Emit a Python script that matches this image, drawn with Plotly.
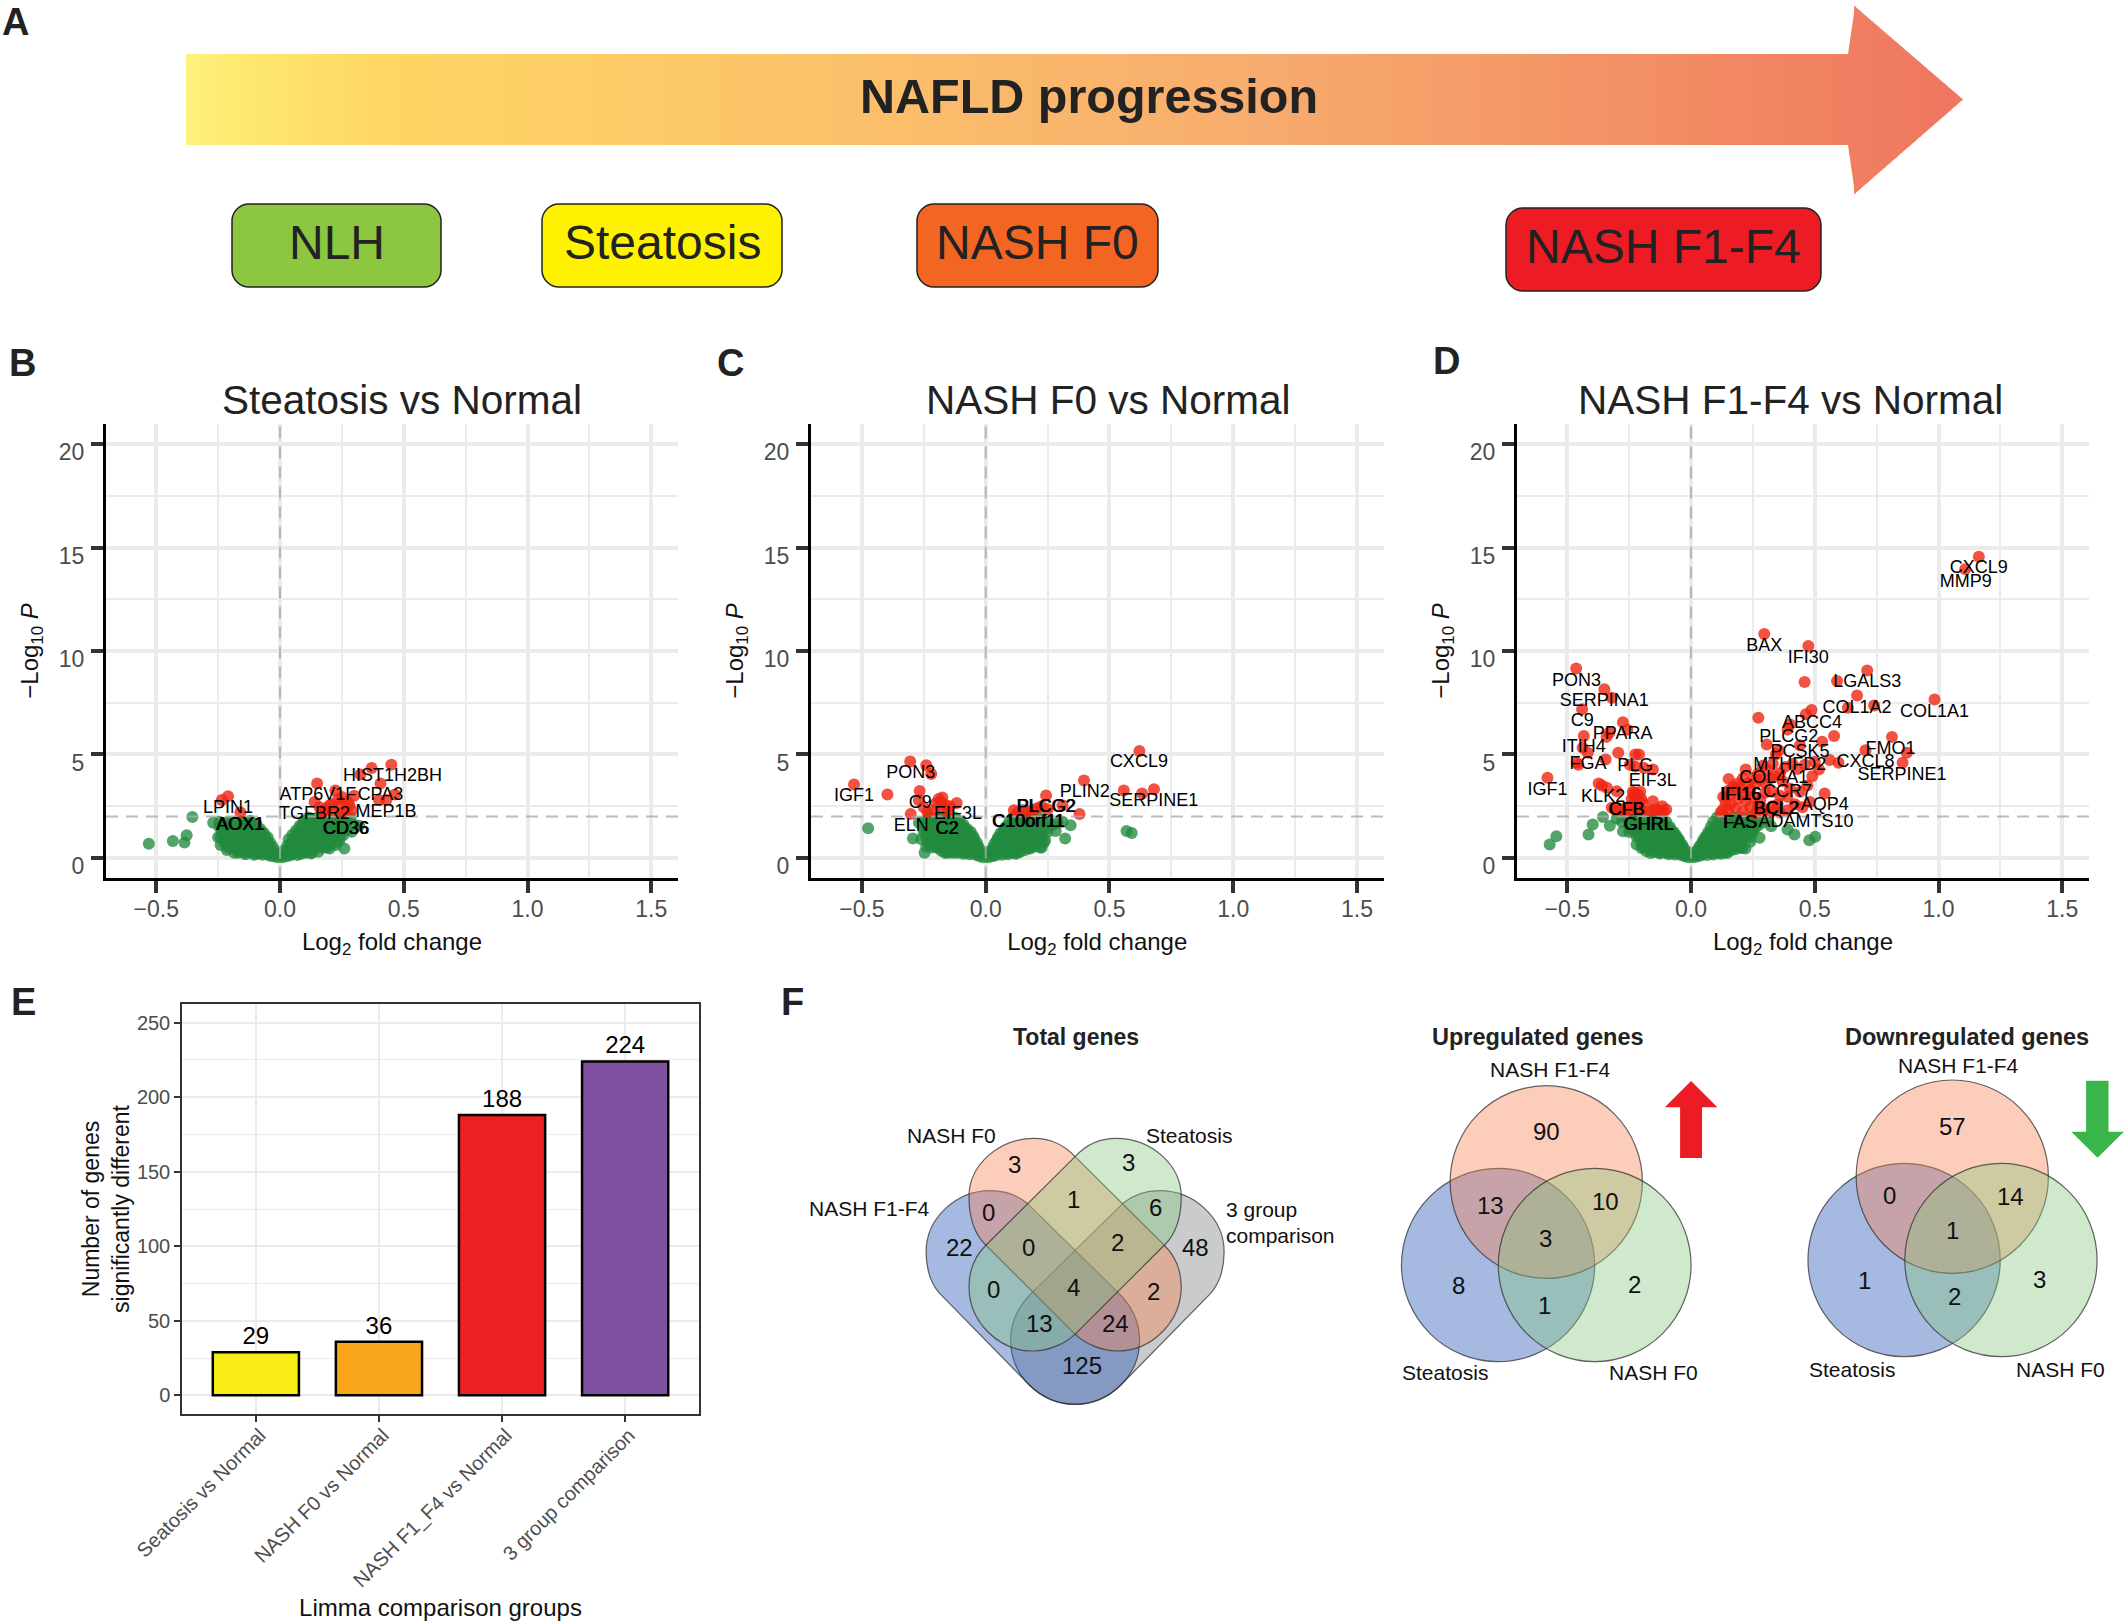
import plotly.graph_objects as go

W, H = 2128, 1621
FONT = "Liberation Sans"

# ---------- volcano data (log2FC, -log10 P) ----------
b_green_x = [-0.53,-0.433,-0.386,-0.377,-0.354,-0.27,0.26,0.29,0.32,
 -0.01,-0.015,-0.02,-0.025,-0.03,-0.03,-0.04,-0.04,-0.05,-0.05,-0.06,-0.06,-0.065,-0.07,-0.07,-0.08,-0.08,-0.085,-0.09,-0.09,-0.095,-0.1,-0.1,-0.105,-0.11,-0.115,-0.12,-0.12,-0.125,-0.13,-0.135,-0.14,-0.14,-0.15,-0.15,-0.155,-0.16,-0.165,-0.17,-0.175,-0.18,-0.185,-0.19,-0.195,-0.2,-0.205,-0.21,-0.215,-0.22,-0.225,-0.235,-0.24,-0.245,-0.25,
 0.01,0.015,0.02,0.025,0.03,0.03,0.035,0.04,0.04,0.045,0.05,0.05,0.055,0.06,0.06,0.065,0.07,0.07,0.075,0.08,0.08,0.085,0.09,0.09,0.095,0.1,0.1,0.105,0.11,0.115,0.12,0.12,0.125,0.13,0.135,0.14,0.14,0.15,0.15,0.155,0.16,0.165,0.17,0.175,0.18,0.185,0.19,0.195,0.2,0.205,0.21,0.215,0.22,0.225,0.235,0.24,0.245,0.255,0.26,0.27,0.285,0.3,
 0.03,0.055,0.08,0.105,0.13, 0.04,0.07,0.1,0.13,0.16,0.19, 0.05,0.08,0.11,0.14,0.17,0.2,0.23, 0.06,0.09,0.12,0.15,0.18,0.21,0.24, 0.07,0.1,0.13,0.16,0.19,0.22,0.25, 0.085,0.115,0.145,0.175,0.205,0.235, 0.1,0.13,0.16,0.19,0.22,0.25, 0.115,0.15,0.185,0.22,0.27,
 -0.03,-0.055,-0.08,-0.11,-0.14,-0.17, -0.04,-0.07,-0.1,-0.13,-0.16,-0.19,-0.21, -0.05,-0.08,-0.11,-0.14,-0.17,-0.2,-0.225, -0.06,-0.09,-0.12,-0.15,-0.18,-0.21,-0.24, -0.075,-0.105,-0.135,-0.165,-0.195,-0.225, -0.095,-0.125,-0.155,-0.185,-0.215,-0.245, -0.12,-0.15,-0.18,-0.21]
b_green_y = [0.69,0.82,0.74,1.1,1.98,1.7,0.46,1.26,1.55,
 0.03,0.2,0.35,0.08,0.55,0.25,0.1,0.75,0.18,1.0,0.4,0.85,1.2,0.15,0.6,0.3,1.4,0.9,0.2,1.1,1.65,0.5,1.3,0.15,0.78,1.55,1.05,1.8,0.28,0.62,1.25,0.18,1.6,0.48,0.95,1.4,1.75,0.3,1.15,0.7,1.55,0.25,0.95,1.3,0.5,1.65,1.1,0.38,1.45,0.8,1.2,0.62,1.75,1.0,
 0.03,0.18,0.38,0.08,0.6,0.28,0.9,0.12,0.48,0.75,1.12,0.2,0.55,0.92,0.34,1.32,0.14,0.7,1.1,1.55,0.42,0.2,0.85,1.28,1.8,0.55,1.05,0.3,1.5,0.75,1.9,1.2,0.22,0.45,0.95,1.65,1.4,0.65,1.1,0.3,1.85,0.85,1.35,0.5,1.6,1.05,0.72,1.95,0.45,1.3,0.9,1.7,1.15,0.62,1.45,0.85,1.9,1.1,1.65,1.35,1.95,1.6,
 0.25,0.25,0.25,0.25,0.25, 0.5,0.5,0.5,0.5,0.5,0.5, 0.75,0.75,0.75,0.75,0.75,0.75,0.75, 1.0,1.0,1.0,1.0,1.0,1.0,1.0, 1.25,1.25,1.25,1.25,1.25,1.25,1.25, 1.5,1.5,1.5,1.5,1.5,1.5, 1.75,1.75,1.75,1.75,1.75,1.75, 1.95,1.95,1.95,1.95,1.95,
 0.25,0.25,0.25,0.25,0.25,0.25, 0.5,0.5,0.5,0.5,0.5,0.5,0.5, 0.75,0.75,0.75,0.75,0.75,0.75,0.75, 1.0,1.0,1.0,1.0,1.0,1.0,1.0, 1.25,1.25,1.25,1.25,1.25,1.25, 1.5,1.5,1.5,1.5,1.5,1.5, 1.75,1.75,1.75,1.75]
b_red_x = [0.45,0.37,0.325,0.406,0.15,0.224,0.464,0.30,0.43,0.40,0.14,0.275,0.21,0.24,0.19,0.29,0.22,0.256,0.175,0.2,0.235,0.265,0.16,0.18,0.25,0.28,-0.21,-0.235,-0.16]
b_red_y = [4.5,4.35,4.03,3.6,3.6,3.26,3.07,3.0,2.8,2.8,2.7,2.7,2.6,2.5,2.4,2.3,2.2,2.2,2.3,2.55,2.85,2.35,2.45,2.2,2.95,2.55,2.98,2.8,2.2]

c_green_x = [-0.475,-0.294,-0.247,-0.235,-0.157,0.569,0.59,0.343,0.283,0.321,0.235,0.226,
 -0.01,-0.015,-0.02,-0.025,-0.03,-0.035,-0.04,-0.045,-0.05,-0.05,-0.06,-0.06,-0.065,-0.07,-0.075,-0.08,-0.08,-0.09,-0.09,-0.095,-0.1,-0.1,-0.11,-0.11,-0.12,-0.12,-0.125,-0.13,-0.14,-0.14,-0.15,-0.15,-0.16,-0.16,-0.17,-0.17,-0.18,-0.18,-0.19,-0.19,-0.2,-0.2,-0.21,-0.22,-0.22,-0.23,-0.24,-0.25,-0.26,-0.27,
 0.01,0.015,0.02,0.025,0.03,0.035,0.04,0.045,0.05,0.05,0.06,0.06,0.065,0.07,0.075,0.08,0.08,0.09,0.09,0.095,0.1,0.1,0.11,0.11,0.12,0.12,0.125,0.13,0.14,0.14,0.15,0.15,0.16,0.16,0.17,0.17,0.18,0.18,0.19,0.19,0.2,0.2,0.21,0.22,0.22,0.23,0.24,0.25,0.27,0.29,0.31,
 0.03,0.055,0.08,0.105,0.13, 0.04,0.07,0.1,0.13,0.16,0.18, 0.05,0.08,0.11,0.14,0.17,0.2, 0.06,0.09,0.12,0.15,0.18,0.21,0.23, 0.07,0.1,0.13,0.16,0.19,0.22,0.25, 0.08,0.11,0.14,0.17,0.2,0.23, 0.095,0.125,0.155,0.185,0.215,0.245, 0.11,0.145,0.18,0.215,
 -0.03,-0.055,-0.08,-0.11,-0.14,-0.165, -0.04,-0.07,-0.1,-0.13,-0.16,-0.19,-0.22, -0.05,-0.08,-0.11,-0.14,-0.17,-0.2,-0.23, -0.06,-0.09,-0.12,-0.15,-0.18,-0.21,-0.24, -0.07,-0.1,-0.13,-0.16,-0.19,-0.22,-0.25, -0.09,-0.12,-0.15,-0.18,-0.21,-0.24, -0.105,-0.135,-0.165,-0.195,-0.225,-0.255, -0.125,-0.16,-0.195,-0.23]
c_green_y = [1.43,0.94,0.25,0.78,0.25,1.3,1.2,1.58,1.3,0.94,0.74,0.5,
 0.03,0.2,0.36,0.08,0.55,0.72,0.15,0.9,0.28,1.05,0.45,1.25,0.18,0.75,1.4,0.35,1.05,0.2,1.6,0.62,0.3,1.25,0.85,1.8,0.45,1.45,0.25,1.05,0.6,1.75,0.32,1.3,0.9,1.95,0.5,1.55,0.35,1.15,0.75,1.85,0.5,1.35,1.7,0.7,1.1,1.95,0.55,1.45,0.9,1.7,
 0.03,0.2,0.35,0.08,0.5,0.68,0.12,0.85,0.25,1.0,0.42,1.2,0.15,0.7,1.35,0.28,1.0,0.18,1.55,0.6,0.3,1.2,0.82,1.75,0.2,1.42,0.45,1.0,0.3,1.65,0.6,1.25,0.38,1.85,0.85,1.5,0.45,1.1,0.7,1.95,0.55,1.35,1.65,0.5,1.05,1.85,0.85,1.45,1.6,1.7,1.75,
 0.25,0.25,0.25,0.25,0.25, 0.5,0.5,0.5,0.5,0.5,0.5, 0.75,0.75,0.75,0.75,0.75,0.75, 1.0,1.0,1.0,1.0,1.0,1.0,1.0, 1.25,1.25,1.25,1.25,1.25,1.25,1.25, 1.5,1.5,1.5,1.5,1.5,1.5, 1.75,1.75,1.75,1.75,1.75,1.75, 1.95,1.95,1.95,1.95,
 0.25,0.25,0.25,0.25,0.25,0.25, 0.5,0.5,0.5,0.5,0.5,0.5,0.5, 0.75,0.75,0.75,0.75,0.75,0.75,0.75, 1.0,1.0,1.0,1.0,1.0,1.0,1.0, 1.25,1.25,1.25,1.25,1.25,1.25,1.25, 1.5,1.5,1.5,1.5,1.5,1.5, 1.75,1.75,1.75,1.75,1.75,1.75, 1.95,1.95,1.95,1.95]
c_red_x = [0.621,0.558,0.632,0.68,0.397,0.379,0.31,0.244,0.226,0.114,0.15,0.19,0.207,0.172,0.13,0.25,-0.532,-0.397,-0.305,-0.24,-0.22,-0.267,-0.303,-0.27,-0.175,-0.117,-0.2,-0.18,-0.163,-0.208,-0.172,-0.144,-0.235,-0.19,-0.155,-0.25]
c_red_y = [5.17,3.26,3.11,3.32,3.74,2.12,2.54,3.02,2.5,2.31,2.31,2.31,2.4,2.25,2.2,2.35,3.55,3.07,4.66,4.48,4.06,3.23,2.12,2.79,2.92,2.65,2.65,2.7,2.56,2.3,2.4,2.5,2.2,2.85,2.25,2.45]

d_green_x = [-0.571,-0.544,-0.414,-0.397,-0.356,-0.328,-0.275,-0.163,0.277,0.208,0.146,0.39,0.418,0.478,0.502,0.324,-0.3,-0.25,
 -0.01,-0.015,-0.02,-0.025,-0.03,-0.035,-0.04,-0.045,-0.05,-0.05,-0.06,-0.06,-0.065,-0.07,-0.075,-0.08,-0.08,-0.09,-0.09,-0.095,-0.1,-0.1,-0.11,-0.11,-0.12,-0.12,-0.125,-0.13,-0.14,-0.14,-0.15,-0.15,-0.16,-0.16,-0.17,-0.17,-0.18,-0.18,-0.19,-0.19,-0.2,-0.2,-0.21,-0.22,-0.22,-0.23,-0.24,
 0.01,0.015,0.02,0.025,0.03,0.035,0.04,0.045,0.05,0.05,0.06,0.06,0.065,0.07,0.075,0.08,0.08,0.09,0.09,0.095,0.1,0.1,0.11,0.11,0.12,0.12,0.125,0.13,0.14,0.14,0.15,0.15,0.16,0.16,0.17,0.17,0.18,0.18,0.19,0.19,0.2,0.2,0.21,0.22,0.22,0.23,0.24,0.25,0.27,0.29,0.31,
 0.03,0.055,0.08,0.105,0.13, 0.04,0.07,0.1,0.13,0.16,0.19, 0.05,0.08,0.11,0.14,0.17,0.2, 0.06,0.09,0.12,0.15,0.18,0.21,0.24, 0.07,0.1,0.13,0.16,0.19,0.22,0.25, 0.08,0.11,0.14,0.17,0.2,0.23,0.26, 0.09,0.12,0.15,0.18,0.21,0.24,0.27, 0.105,0.14,0.175,0.21,0.245,
 -0.03,-0.055,-0.08,-0.105,-0.13, -0.04,-0.07,-0.1,-0.13,-0.16,-0.19, -0.05,-0.08,-0.11,-0.14,-0.17,-0.2, -0.06,-0.09,-0.12,-0.15,-0.18,-0.21, -0.07,-0.1,-0.13,-0.16,-0.19,-0.22,-0.25, -0.085,-0.115,-0.145,-0.175,-0.205,-0.235, -0.1,-0.13,-0.16,-0.19,-0.22,-0.25,-0.28, -0.12,-0.155,-0.19,-0.225,-0.26]
d_green_y = [0.65,1.05,1.13,1.61,1.98,1.56,1.29,0.24,0.97,0.48,0.24,1.37,1.13,0.85,1.02,1.53,1.9,1.6,
 0.03,0.18,0.33,0.08,0.48,0.62,0.14,0.78,0.24,0.92,0.38,1.1,0.16,0.65,1.25,0.3,0.95,0.18,1.45,0.55,0.28,1.15,0.72,1.6,0.4,1.3,0.22,0.95,0.52,1.55,0.3,1.2,0.8,1.85,0.45,1.4,0.32,1.05,0.7,1.7,0.48,1.25,1.55,0.65,1.05,1.9,1.35,
 0.03,0.16,0.3,0.07,0.44,0.58,0.12,0.72,0.22,0.88,0.36,1.05,0.14,0.6,1.2,0.26,0.9,0.16,1.4,0.52,0.26,1.1,0.7,1.55,0.2,1.28,0.42,0.9,0.28,1.5,0.55,1.15,0.35,1.72,0.78,1.38,0.42,1.02,0.65,1.85,0.5,1.25,1.55,0.46,1.0,1.8,0.78,1.35,1.55,1.7,1.8,
 0.25,0.25,0.25,0.25,0.25, 0.5,0.5,0.5,0.5,0.5,0.5, 0.75,0.75,0.75,0.75,0.75,0.75, 1.0,1.0,1.0,1.0,1.0,1.0,1.0, 1.25,1.25,1.25,1.25,1.25,1.25,1.25, 1.5,1.5,1.5,1.5,1.5,1.5,1.5, 1.75,1.75,1.75,1.75,1.75,1.75,1.75, 1.95,1.95,1.95,1.95,1.95,
 0.25,0.25,0.25,0.25,0.25, 0.5,0.5,0.5,0.5,0.5,0.5, 0.75,0.75,0.75,0.75,0.75,0.75, 1.0,1.0,1.0,1.0,1.0,1.0, 1.25,1.25,1.25,1.25,1.25,1.25,1.25, 1.5,1.5,1.5,1.5,1.5,1.5, 1.75,1.75,1.75,1.75,1.75,1.75,1.75, 1.95,1.95,1.95,1.95,1.95]
d_red_x = [-0.464,-0.35,-0.32,-0.44,-0.275,-0.257,-0.433,-0.341,-0.33,-0.438,-0.417,-0.294,-0.345,-0.462,-0.455,-0.225,-0.21,-0.247,-0.225,-0.19,-0.154,-0.58,-0.373,-0.36,-0.34,-0.30,-0.228,
 -0.22,-0.235,-0.205,-0.24,-0.2,-0.225,-0.215,-0.23,-0.21,-0.245,-0.195,-0.22,-0.154,-0.116,-0.1,-0.125,-0.154,-0.32,-0.3,-0.27,-0.285,-0.25,-0.14,-0.11,-0.26,-0.2,-0.17,
 1.163,1.108,0.296,0.474,0.712,0.459,0.59,0.671,0.984,0.74,0.634,0.487,0.464,0.272,0.4,0.39,0.578,0.812,0.53,0.306,0.44,0.705,0.355,0.343,0.872,0.56,0.596,0.855,0.517,0.221,0.152,0.54,
 0.5,0.46,0.43,0.41,0.38,0.36,0.33,0.31,0.29,0.27,0.25,0.23,0.21,0.19,0.17,0.15,0.13,0.14,0.16,0.18,0.2,0.22,0.24,0.26,0.28,0.3,0.32,0.34,0.37,0.4,0.44,0.47,0.49,0.3,0.33,0.36,0.39,0.42,0.45,0.48,0.28,0.25,0.22,0.19,0.16,0.13,0.12,0.15,0.18,0.21,0.24,0.27,0.3,0.33,0.36,0.39,0.35,0.32,0.29,0.26]
d_red_y = [9.15,8.15,7.74,7.18,6.56,6.2,5.89,5.85,6.05,5.32,5.08,5.08,4.76,4.6,4.5,5.0,5.0,4.5,4.42,4.35,4.27,3.87,3.6,3.5,3.39,3.22,3.15,
 2.9,3.2,3.2,2.85,2.85,2.6,3.05,3.0,2.7,2.5,2.65,2.4,2.74,2.5,2.34,2.28,2.3,2.42,2.3,2.25,2.35,2.28,2.35,2.25,2.4,2.3,2.25,
 14.56,13.95,10.82,10.24,9.06,8.5,8.55,7.85,7.66,7.37,7.26,7.15,6.94,6.77,6.45,6.2,5.89,5.85,5.61,5.48,5.45,5.2,5.2,5.0,5.08,4.73,4.6,4.6,4.27,4.27,3.82,3.11,
 4.65,4.5,4.3,4.55,4.4,4.1,4.55,4.25,4.45,4.05,3.85,3.6,3.85,3.6,3.45,3.25,2.95,2.7,3.05,3.35,3.35,3.05,3.3,3.6,3.8,3.6,3.85,3.95,3.7,3.35,3.2,3.5,3.95,3.15,3.2,3.0,2.95,2.6,2.45,2.7,2.8,2.95,2.75,2.85,2.6,2.35,2.2,2.3,2.4,2.25,2.45,2.5,2.35,2.5,2.2,2.3,2.6,2.2,2.25,2.15]

b_label_x = [0.455,0.153,0.406,-0.21,0.139,0.428,-0.159,-0.163,0.269,0.265]
b_label_y = [3.93,3.02,3.02,2.37,2.12,2.21,1.55,1.55,1.39,1.39]
b_label_t = ["HIST1H2BH","ATP6V1F","CPA3","LPIN1","TGFBR2","MEP1B","AOX1","AOX1","CD36","CD36"]
c_label_x = [0.619,-0.303,-0.532,0.40,0.679,-0.264,0.247,0.243,-0.112,0.175,0.171,-0.301,-0.157,-0.154]
c_label_y = [4.6,4.06,2.96,3.17,2.73,2.61,2.44,2.44,2.08,1.7,1.7,1.51,1.35,1.35]
c_label_t = ["CXCL9","PON3","IGF1","PLIN2","SERPINE1","C9","PLCG2","PLCG2","EIF3L","C10orf11","C10orf11","ELN","C2","C2"]
d_label_x = [1.163,1.11,0.296,0.474,-0.463,0.712,-0.35,0.671,0.984,-0.439,0.489,-0.276,0.395,-0.433,0.44,0.806,0.705,-0.416,-0.225,0.399,0.853,-0.154,0.334,-0.58,0.203,0.199,0.39,-0.355,0.54,0.343,0.347,-0.262,-0.258,-0.173,-0.169,0.197,0.201,0.465]
d_label_y = [13.98,13.3,10.2,9.66,8.55,8.47,7.55,7.23,7.05,6.61,6.52,5.97,5.82,5.32,5.08,5.24,4.6,4.52,4.44,4.48,4.0,3.71,3.82,3.27,3.02,3.02,3.15,2.94,2.53,2.34,2.34,2.29,2.29,1.56,1.56,1.66,1.66,1.73]
d_label_t = ["CXCL9","MMP9","BAX","IFI30","PON3","LGALS3","SERPINA1","COL1A2","COL1A1","C9","ABCC4","PPARA","PLCG2","ITIH4","PCSK5","FMO1","CXCL8","FGA","PLG","MTHFD2","SERPINE1","EIF3L","COL4A1","IGF1","IFI16","IFI16","CCR7","KLK2","AQP4","BCL2","BCL2","CFB","CFB","GHRL","GHRL","FAS","FAS","ADAMTS10"]

volcano_titles = ["Steatosis vs Normal","NASH F0 vs Normal","NASH F1-F4 vs Normal"]
x_ticks = [-0.5,0,0.5,1,1.5]
x_minor = [-0.25,0.25,0.75,1.25]
y_ticks = [0,5,10,15,20]
y_minor = [2.5,7.5,12.5,17.5]
p_threshold = 2.0

# ---------- bar data ----------
bar_groups = ["Seatosis vs Normal","NASH F0 vs Normal","NASH F1_F4 vs Normal","3 group comparison"]
bar_values = [29,36,188,224]
bar_colors = ["#F7EC13","#FAA61A","#ED2024","#8151A1"]

# ---------- stage boxes ----------
stage_names = ["NLH","Steatosis","NASH F0","NASH F1-F4"]
stage_colors = ["#8DC63F","#FFF200","#F36523","#ED1C24"]

fig = go.Figure()

def pxx(x): return x / W
def pxy(y): return 1 - y / H

def note(text, x, y, size, color="#222222", bold=False, xanchor="center", angle=0):
    t = f"<b>{text}</b>" if bold else text
    fig.add_annotation(text=t, x=pxx(x), y=pxy(y), xref="paper", yref="paper", showarrow=False,
                       xanchor=xanchor, yanchor="middle", textangle=angle,
                       font=dict(family=FONT, size=size, color=color), align="left")

# ---------- panel A: gradient arrow made of thin slices ----------
stops = [(0.0,(253,241,125)),(0.03,(254,232,112)),(0.11,(254,214,100)),(0.38,(251,192,106)),(0.6,(247,172,110)),(0.78,(244,148,102)),(1.0,(238,118,95))]
def grad(t):
    for (t0,c0),(t1,c1) in zip(stops, stops[1:]):
        if t <= t1:
            f = (t-t0)/(t1-t0)
            return "rgb(%d,%d,%d)" % tuple(round(a+(b-a)*f) for a,b in zip(c0,c1))
    return "rgb(238,118,95)"
ax0, ax1, neck, tip = 186, 1851, 1851, 1963
body_top, body_bot, head_top, head_bot, mid = 54, 145, 3, 197, 99.5
xs = list(range(ax0, tip, 6))
shapes = []
for a in xs:
    b = min(a+7, tip)
    col = grad((a-ax0)/(tip-ax0))
    def edge(x):
        if x < neck: return body_top, body_bot
        f = (x-neck)/(tip-neck)
        return head_top+(mid-head_top)*f, head_bot+(mid-head_bot)*f
    ta, ba = edge(a); tb, bb = edge(b)
    path = f"M {pxx(a):.5f} {pxy(ta):.5f} L {pxx(b):.5f} {pxy(tb):.5f} L {pxx(b):.5f} {pxy(bb):.5f} L {pxx(a):.5f} {pxy(ba):.5f} Z"
    shapes.append(dict(type="path", path=path, xref="paper", yref="paper", fillcolor=col, line=dict(width=0), layer="above"))
note("NAFLD progression", 1089, 96, 48.5, bold=True)

def rrect(x0,y0,x1,y1,r=17):
    P = lambda x,y: f"{pxx(x):.5f} {pxy(y):.5f}"
    k = r*0.45
    return (f"M {P(x0+r,y0)} L {P(x1-r,y0)} C {P(x1-k,y0)} {P(x1,y0+k)} {P(x1,y0+r)} L {P(x1,y1-r)} "
            f"C {P(x1,y1-k)} {P(x1-k,y1)} {P(x1-r,y1)} L {P(x0+r,y1)} C {P(x0+k,y1)} {P(x0,y1-k)} {P(x0,y1-r)} "
            f"L {P(x0,y0+r)} C {P(x0,y0+k)} {P(x0+k,y0)} {P(x0+r,y0)} Z")
box_px = [(232,204,441,287),(542,204,782,287),(917,204,1158,287),(1506,208,1821,291)]
for name,col,(x0,y0,x1,y1) in zip(stage_names,stage_colors,box_px):
    shapes.append(dict(type="path", path=rrect(x0,y0,x1,y1), xref="paper", yref="paper", fillcolor=col,
                       line=dict(color="#222222", width=1.5), layer="above"))
    note(name, (x0+x1)/2, (y0+y1)/2-3, 48)

# ---------- volcano panels ----------
def volcano(idx, left, right, gx, gy, rx, ry, lx, ly, lt):
    xa, ya = f"x{idx}", f"y{idx}"
    ka, kb = f"xaxis{idx}", f"yaxis{idx}"
    fig.add_trace(go.Scatter(x=gx, y=gy, mode="markers", xaxis=xa, yaxis=ya,
                             marker=dict(size=12, color="rgba(34,139,62,0.78)", line=dict(width=0)), hoverinfo="skip"))
    fig.add_trace(go.Scatter(x=rx, y=ry, mode="markers", xaxis=xa, yaxis=ya,
                             marker=dict(size=12, color="rgba(240,38,18,0.8)", line=dict(width=0)), hoverinfo="skip"))
    xr = [(left-x0_of[idx])/247.5, (right-x0_of[idx])/247.5]
    fig.add_trace(go.Scatter(x=xr, y=[p_threshold,p_threshold], mode="lines", xaxis=xa, yaxis=ya,
                             line=dict(color="rgba(170,170,170,0.8)", width=2, dash="12px,8px"), hoverinfo="skip"))
    fig.add_trace(go.Scatter(x=[0,0], y=[-1,21], mode="lines", xaxis=xa, yaxis=ya,
                             line=dict(color="rgba(170,170,170,0.8)", width=2, dash="12px,8px"), hoverinfo="skip"))
    fig.add_trace(go.Scatter(x=lx, y=ly, text=lt, mode="text", xaxis=xa, yaxis=ya, textposition="middle center",
                             textfont=dict(family=FONT, size=18, color="black"), hoverinfo="skip"))
    common = dict(showline=True, linecolor="black", linewidth=3, ticks="outside", ticklen=12, tickwidth=4,
                  tickcolor="#333333", zeroline=False, showgrid=True, gridcolor="#ebebeb", gridwidth=4,
                  tickfont=dict(family=FONT, size=23, color="#4d4d4d"))
    fig.layout[ka] = dict(domain=[pxx(left), pxx(right)], anchor=ya, range=xr, tickmode="array", tickvals=x_ticks,
                          ticktext=None, tickformat=".1f", ticklabelstandoff=-4,
                          title=dict(text="Log<sub>2</sub> fold change", standoff=13, font=dict(family=FONT, size=24, color="#111111")),
                          minor=dict(tickvals=x_minor, showgrid=True, gridcolor="#ebebeb", gridwidth=2, ticks=""), **common)
    fig.layout[kb] = dict(domain=[pxy(878), pxy(424)], anchor=xa, range=[-0.97,20.97], tickmode="array", tickvals=y_ticks,
                          ticklabelshift=8, ticklabelstandoff=2,
                          title=dict(text="\u2212Log<sub>10</sub> <i>P</i>", standoff=14, font=dict(family=FONT, size=24, color="#111111")),
                          minor=dict(tickvals=y_minor, showgrid=True, gridcolor="#ebebeb", gridwidth=2, ticks=""), **common)

x0_of = {1:280, 2:985.7, 3:1691}
volcano(1,106,678,b_green_x,b_green_y,b_red_x,b_red_y,b_label_x,b_label_y,b_label_t)
volcano(2,811,1383.5,c_green_x,c_green_y,c_red_x,c_red_y,c_label_x,c_label_y,c_label_t)
volcano(3,1517,2089,d_green_x,d_green_y,d_red_x,d_red_y,d_label_x,d_label_y,d_label_t)
for t,x in zip(volcano_titles,[402,1108.5,1790]):
    note(t, x, 400, 40.5)

# ---------- bar panel ----------
fig.add_trace(go.Bar(x=bar_groups, y=bar_values, xaxis="x4", yaxis="y4", width=0.7,
                     marker=dict(color=bar_colors, line=dict(color="black", width=2.5)),
                     text=[str(v) for v in bar_values], textposition="outside", cliponaxis=False,
                     textfont=dict(family=FONT, size=24, color="black"), hoverinfo="skip"))
fig.layout["xaxis4"] = dict(domain=[pxx(182),pxx(699)], anchor="y4", type="category", range=[-0.6,3.6], tickangle=-45,
                            showline=True, linecolor="#333333", linewidth=1.5, mirror=True, ticks="outside", ticklen=6, tickwidth=2,
                            tickcolor="#333333", showgrid=True, gridcolor="#ebebeb", gridwidth=2, ticklabelshift=4, ticklabelstandoff=-6,
                            tickfont=dict(family=FONT, size=20, color="#4d4d4d"),
                            title=dict(text="Limma comparison groups", standoff=10, font=dict(family=FONT, size=24, color="#111111")))
fig.layout["yaxis4"] = dict(domain=[pxy(1414),pxy(1004)], anchor="x4", range=[-12.5,262.5], tickvals=[0,50,100,150,200,250],
                            showline=True, linecolor="#333333", linewidth=1.5, mirror=True, ticks="outside", ticklen=6, tickwidth=2,
                            tickcolor="#333333", zeroline=False, showgrid=True, gridcolor="#ebebeb", gridwidth=2,
                            minor=dict(tickvals=[25,75,125,175,225], showgrid=True, gridcolor="#ebebeb", gridwidth=1, ticks=""),
                            tickfont=dict(family=FONT, size=20, color="#4d4d4d"),
                            title=dict(text="Number of genes<br>significantly different", standoff=1, font=dict(family=FONT, size=23, color="#111111")))

# ---------- panel letters ----------
for t,x,y in [("A",15,22),("B",22,363),("C",730,363),("D",1447,361),("E",23,1002),("F",792,1002)]:
    note(t,x,y,38,bold=True)

# ---------- Venn diagrams ----------
VENN_PINK = "rgba(248,130,83,0.4)"
VENN_GREEN = "rgba(137,197,127,0.4)"
VENN_BLUE = "rgba(30,80,180,0.4)"
VENN_GREY = "rgba(120,125,130,0.4)"
OUT = dict(color="rgba(50,50,50,0.75)", width=1.2)

def z5(x,y): return 760+x/2.45, 970+y/3
def z6(x,y): return 1380+x/2.096, 1000+y/3

def bez(cmds, mirror=False):
    out = []
    for c in cmds:
        parts = [c[0]]
        for i in range(1,len(c),2):
            x,y = c[i],c[i+1]
            if mirror: x = 1544-x
            rx,ry = z5(x,y)
            parts.append(f"{pxx(rx):.5f} {pxy(ry):.5f}")
        out.append(" ".join(parts))
    return " ".join(out)+" Z"

pink_cmds = [("M",772,560),("L",990,825),("C",1015,855,1032,900,1032,950),("C",1032,1055,960,1143,875,1143),
             ("C",835,1143,795,1120,770,1090),("L",553,825),("C",528,795,512,745,512,680),("C",512,585,585,505,672,505),("C",715,505,750,530,772,560)]
blue_cmds = [("M",655,700),("L",875,965),("C",905,1000,930,1050,930,1110),("C",930,1215,860,1303,770,1303),
             ("C",725,1303,690,1280,660,1245),("L",440,970),("C",418,940,407,895,407,845),("C",407,745,480,662,565,662),("C",600,662,630,675,655,700)]
for cmds,mir,col in [(blue_cmds,True,VENN_GREY),(blue_cmds,False,VENN_BLUE),(pink_cmds,False,VENN_PINK),(pink_cmds,True,VENN_GREEN)]:
    shapes.append(dict(type="path", path=bez(cmds,mir), xref="paper", yref="paper", fillcolor=col, line=OUT, layer="above"))

total_counts = [("3",624,582),("3",903,577),("0",560,727),("1",767,687),("6",968,712),("22",488,833),("0",658,833),("2",877,818),
                ("48",1067,833),("0",573,958),("4",767,953),("2",965,965),("13",684,1060),("24",872,1060),("125",789,1185)]
for t,x,y in total_counts:
    rx,ry = z5(x,y); note(t,rx,ry,24,color="#111111")
for t,x,y,anc in [("NASH F0",468,497,"center"),("Steatosis",1052,497,"center"),("NASH F1-F4",268,715,"center"),("3 group",1138,718,"left"),("comparison",1138,795,"left")]:
    rx,ry = z5(x,y); note(t,rx,ry,21,color="#111111",xanchor=anc)
rx,ry = z5(773,200); note("Total genes",rx,ry,23,bold=True)

def ell(x0,x1,y0,y1,col):
    a,b = z6(x0,y0); c,d = z6(x1,y1)
    shapes.append(dict(type="circle", xref="paper", yref="paper", x0=pxx(a), x1=pxx(c), y0=pxy(d), y1=pxy(b),
                       fillcolor=col, line=OUT, layer="above"))
ell(45,450,505,1085,VENN_BLUE); ell(147,550,257,835,VENN_PINK); ell(248,652,505,1085,VENN_GREEN)
ell(897,1300,490,1070,VENN_BLUE); ell(998,1401,240,820,VENN_PINK); ell(1100,1503,490,1070,VENN_GREEN)

up_counts = [("90",350,393),("13",231,615),("10",472,605),("3",347,714),("8",165,855),("1",345,917),("2",534,853)]
down_counts = [("57",1199,380),("0",1067,585),("14",1322,590),("1",1200,692),("1",1015,840),("2",1205,888),("3",1383,838)]
for t,x,y in up_counts+down_counts:
    rx,ry = z6(x,y); note(t,rx,ry,24,color="#111111")
for t,x,y in [("NASH F1-F4",358,208),("Steatosis",137,1117),("NASH F0",573,1117),("NASH F1-F4",1212,195),("Steatosis",990,1107),("NASH F0",1427,1107)]:
    rx,ry = z6(x,y); note(t,rx,ry,21,color="#111111")
for t,x,y in [("Upregulated genes",331,112),("Downregulated genes",1230,112)]:
    rx,ry = z6(x,y); note(t,rx,ry,23.5,bold=True)

def poly(pts,col):
    s = "M "+" L ".join(f"{pxx(z6(x,y)[0]):.5f} {pxy(z6(x,y)[1]):.5f}" for x,y in pts)+" Z"
    shapes.append(dict(type="path", path=s, xref="paper", yref="paper", fillcolor=col, line=dict(width=0), layer="above"))
poly([(652,243),(707,322),(675,322),(675,474),(629,474),(629,322),(597,322)],"#ED1C24")
poly([(1480,242),(1527,242),(1527,395),(1559,395),(1504,473),(1449,395),(1480,395)],"#39B54A")

fig.update_layout(width=W, height=H, margin=dict(l=0,r=0,t=0,b=0,autoexpand=False), showlegend=False,
                  paper_bgcolor="white", plot_bgcolor="white", shapes=shapes, font=dict(family=FONT), bargap=0.3)
fig.write_html("out.html", post_script="document.body.style.margin='0';", config=dict(displayModeBar=False))
